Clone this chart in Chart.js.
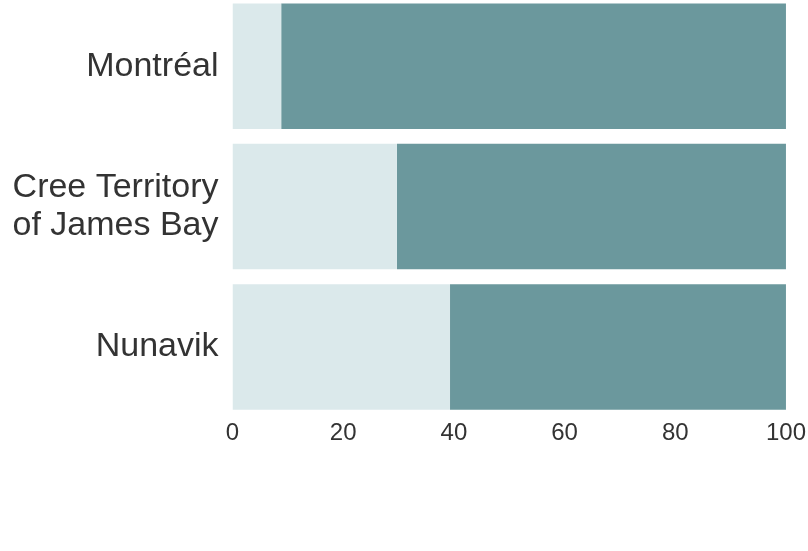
<!DOCTYPE html>
<html>
<head>
<meta charset="utf-8">
<script src="https://cdn.jsdelivr.net/npm/chart.js@4"></script>
<style>
html,body{margin:0;padding:0;background:#fff;overflow:hidden;}
#wrap{position:absolute;left:0;top:-4px;width:808px;height:555px;}
</style>
</head>
<body>
<div id="wrap"><canvas id="c"></canvas></div>
<script>
const categories = ['Montréal', ['Cree Territory', 'of James Bay'], 'Nunavik'];
const lightValues = [8.8, 29.7, 39.3];
const darkValues = [91.2, 70.3, 60.7];
const xTicks = [0, 20, 40, 60, 80, 100];

new Chart(document.getElementById('c'), {
  type: 'bar',
  data: {
    labels: categories,
    datasets: [
      { data: lightValues, backgroundColor: '#dbe9eb', barPercentage: 126/141, categoryPercentage: 1 },
      { data: darkValues, backgroundColor: '#6b989d', barPercentage: 126/141, categoryPercentage: 1 }
    ]
  },
  options: {
    indexAxis: 'y',
    responsive: true,
    maintainAspectRatio: false,
    animation: false,
    layout: { padding: { top: 0, right: 22, left: 0, bottom: 101 } },
    plugins: { legend: { display: false }, tooltip: { enabled: false } },
    scales: {
      x: {
        stacked: true, min: 0, max: 100,
        border: { display: false },
        grid: { display: false, drawTicks: false },
        afterBuildTicks: s => { s.ticks = xTicks.map(v => ({ value: v })); },
        ticks: { padding: 2, color: '#333', font: { family: 'Liberation Sans', size: 24 } }
      },
      y: {
        stacked: true,
        border: { display: false },
        grid: { display: false, drawTicks: false },
        afterFit: s => { s.width = 232.5; s.paddingTop = 0; s.paddingBottom = 0; },
        ticks: { padding: 14, color: '#333', font: { family: 'Liberation Sans', size: 34, lineHeight: 1.12 } }
      }
    }
  }
});
</script>
</body>
</html>
